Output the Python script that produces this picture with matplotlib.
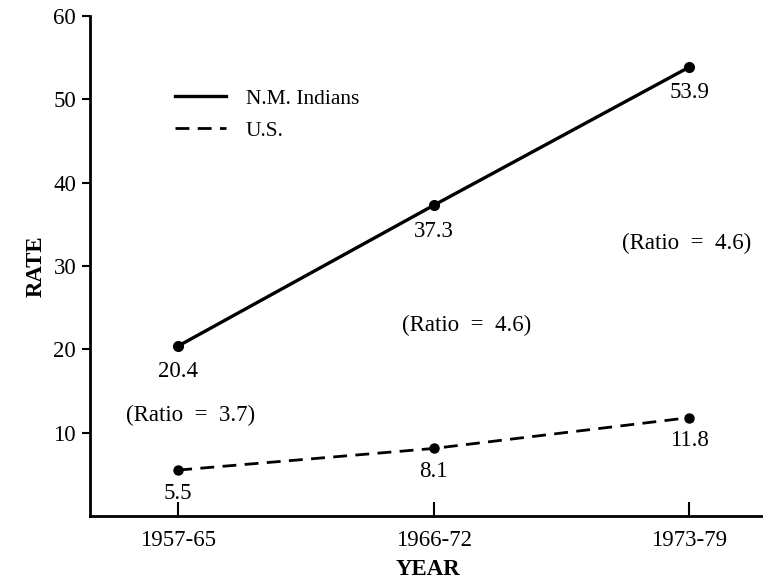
import matplotlib.pyplot as plt
from matplotlib.lines import Line2D

periods = ['1957-65', '1966-72', '1973-79']
nm_indians = [20.4, 37.3, 53.9]
us = [5.5, 8.1, 11.8]
ratios = ['3.7', '4.6', '4.6']

plt.rcParams['font.family'] = ['Liberation Serif', 'DejaVu Serif']
fs = 16.5

fig = plt.figure(figsize=(7.63, 5.79), dpi=100)
ax = fig.add_axes([0.118, 0.109, 0.886, 0.863])

x = list(range(len(periods)))
ax.plot(x, nm_indians, color='black', lw=2.4, marker='o', ms=7, clip_on=False)
ax.plot(x, us, color='black', lw=2, ls=(0, (5, 3)), marker='o', ms=6.5, clip_on=False)

# value labels under each point
for xi, v in zip(x, nm_indians):
    ax.annotate(f'{v}', (xi, v), xytext=(0, -11), textcoords='offset points',
                ha='center', va='top', fontsize=fs)
for xi, v in zip(x, us):
    ax.annotate(f'{v}', (xi, v), xytext=(0, -9), textcoords='offset points',
                ha='center', va='top', fontsize=fs)

# ratio notes
ratio_pos = [(0.05, 12.1), (1.13, 22.9), (1.99, 32.7)]
for (px, py), r in zip(ratio_pos, ratios):
    ax.text(px, py, f'(Ratio  =  {r})', ha='center', va='center', fontsize=fs)

ax.set_xlim(-0.345, 2.3)
ax.set_ylim(0, 60)
ax.set_xticks(x)
ax.set_xticklabels(periods)
ax.set_yticks([10, 20, 30, 40, 50, 60])

ax.spines['top'].set_visible(False)
ax.spines['right'].set_visible(False)
ax.spines['left'].set_linewidth(2)
ax.spines['bottom'].set_linewidth(2)
ax.tick_params(axis='y', direction='out', length=6, width=1.5, labelsize=fs, pad=4)
ax.tick_params(axis='x', direction='in', length=10, width=1.5, labelsize=fs, pad=10)

ax.set_ylabel('RATE', fontsize=fs, fontweight='bold', labelpad=5)
ax.set_xlabel('YEAR', fontsize=fs, fontweight='bold', labelpad=6)

handles = [Line2D([], [], color='black', lw=2.4),
           Line2D([], [], color='black', lw=2, ls=(0, (5, 3)))]
ax.legend(handles, ['N.M. Indians', 'U.S.'], loc='upper left',
          bbox_to_anchor=(0.215, 0.865), bbox_transform=fig.transFigure,
          frameon=False, fontsize=fs - 1, handlelength=2.4, handletextpad=0.9,
          labelspacing=0.55, borderpad=0)

fig.savefig('out.png', dpi=100)
